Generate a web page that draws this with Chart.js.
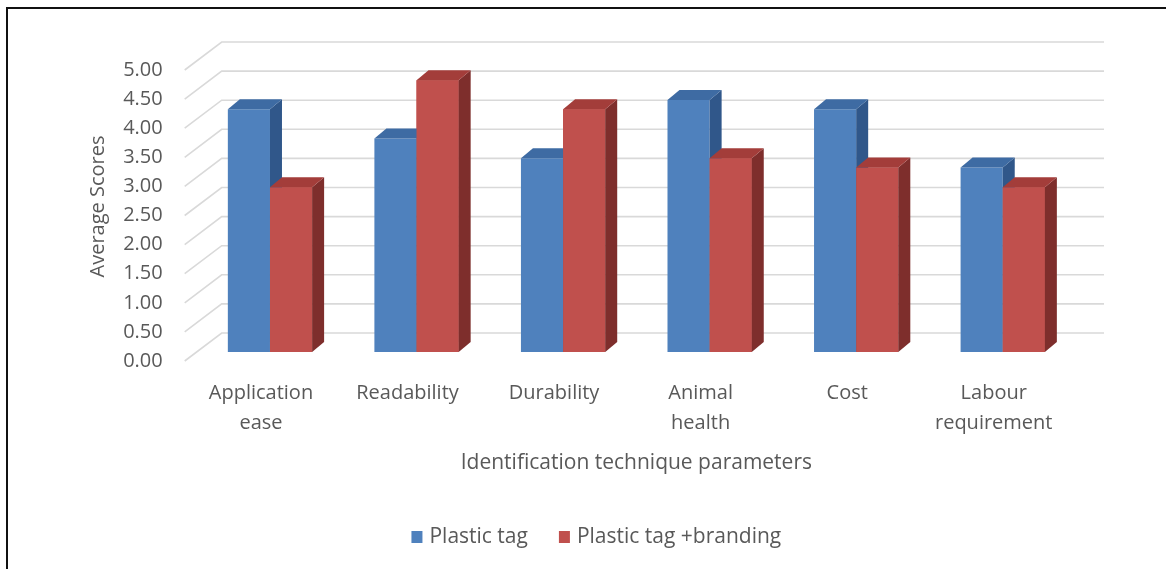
<!DOCTYPE html>
<html>
<head>
<meta charset="utf-8">
<script src="https://cdn.jsdelivr.net/npm/chart.js@4"></script>
<style>
  html, body { margin: 0; padding: 0; background: #fff; overflow: hidden; }
  #wrap { position: relative; width: 1166px; height: 569px; }
  #frame {
    position: absolute; left: 6px; top: 7px; right: -10px; bottom: -10px;
    border: 2px solid #111; pointer-events: none;
  }
</style>
</head>
<body>
<div id="wrap">
  <canvas id="chart" width="1166" height="569"></canvas>
  <div id="frame"></div>
</div>
<script>
// categories (multi-line labels)
const categories = [
  ["Application", "ease"],
  ["Readability"],
  ["Durability"],
  ["Animal", "health"],
  ["Cost"],
  ["Labour", "requirement"],
];
const seriesNames = ["Plastic tag", "Plastic tag +branding"];
const plasticTag = [4.17, 3.67, 3.33, 4.33, 4.17, 3.17];
const plasticTagBranding = [2.83, 4.67, 4.17, 3.33, 3.17, 2.83];
const yMin = 0;
const yMax = 5;
const yStep = 0.5;

const frontColors = ["#4F81BD", "#C0504D"];
const topColors = ["#3E6BA3", "#A33D3A"];
const sideColors = ["#30578A", "#7E2E2C"];
const textColor = "#595959";
const FONT = "'Open Sans', sans-serif";

// fake 3d depth of the bars
const BAR_DX = 12, BAR_DY = 10;

const depthPlugin = {
  id: "depth3d",
  beforeDatasetsDraw(chart) {
    // back wall gridlines + the slanted floor lines to the tick labels
    const { ctx, chartArea, scales } = chart;
    const y = scales.y;
    ctx.save();
    ctx.strokeStyle = "#d9d9d9";
    ctx.lineWidth = 1.6;
    y.ticks.forEach((t) => {
      const py = y.getPixelForValue(t.value);
      ctx.beginPath();
      ctx.moveTo(chartArea.left - 12, py + 9);
      ctx.lineTo(chartArea.left + 25, py - 19);
      ctx.lineTo(chartArea.right + 28, py - 19);
      ctx.stroke();
    });
    ctx.restore();
  },
  afterDatasetsDraw(chart) {
    const ctx = chart.ctx;
    const metas = [chart.getDatasetMeta(0), chart.getDatasetMeta(1)];
    ctx.save();
    categories.forEach((c, i) => {
      metas.forEach((meta, d) => {
        const bar = meta.data[i];
        // redraw front face so it hides the side of the bar before it
        if (d > 0) bar.draw(ctx);
        const { x, y, base, width } = bar.getProps(["x", "y", "base", "width"], true);
        const l = x - width / 2;
        const r = x + width / 2;
        ctx.fillStyle = sideColors[d];
        ctx.beginPath();
        ctx.moveTo(r, y);
        ctx.lineTo(r + BAR_DX, y - BAR_DY);
        ctx.lineTo(r + BAR_DX, base - BAR_DY);
        ctx.lineTo(r, base);
        ctx.closePath();
        ctx.fill();
        ctx.fillStyle = topColors[d];
        ctx.beginPath();
        ctx.moveTo(l, y);
        ctx.lineTo(l + BAR_DX, y - BAR_DY);
        ctx.lineTo(r + BAR_DX, y - BAR_DY);
        ctx.lineTo(r, y);
        ctx.closePath();
        ctx.fill();
      });
    });
    ctx.restore();
  },
  afterDraw(chart) {
    // legend under the axis title
    const { ctx, chartArea } = chart;
    ctx.save();
    ctx.font = "21px " + FONT;
    ctx.textBaseline = "middle";
    ctx.textAlign = "left";
    const box = 11, gap = 7, between = 31;
    const widths = chart.data.datasets.map((ds) => ctx.measureText(ds.label).width);
    const total = widths.reduce((a, w) => a + box + gap + w, 0) + between;
    let x = (chartArea.left + chartArea.right) / 2 - 40 - total / 2;
    const cy = 537;
    chart.data.datasets.forEach((ds, i) => {
      ctx.fillStyle = ds.backgroundColor;
      ctx.fillRect(x, cy - 6, box, 12);
      x += box + gap;
      ctx.fillStyle = textColor;
      ctx.fillText(ds.label, x, cy);
      x += widths[i] + between;
    });
    ctx.restore();
  },
};

new Chart(document.getElementById("chart"), {
  type: "bar",
  data: {
    labels: categories,
    datasets: [
      {
        label: seriesNames[0],
        data: plasticTag,
        backgroundColor: frontColors[0],
      },
      {
        label: seriesNames[1],
        data: plasticTagBranding,
        backgroundColor: frontColors[1],
      },
    ],
  },
  options: {
    responsive: false,
    animation: false,
    devicePixelRatio: 1,
    layout: { padding: { left: 80, right: 90, top: 61, bottom: 93 } },
    datasets: {
      bar: { categoryPercentage: 0.575, barPercentage: 1, borderWidth: 0 },
    },
    plugins: {
      legend: { display: false },
      tooltip: { enabled: false },
    },
    scales: {
      x: {
        grid: { display: false, drawTicks: false },
        border: { display: false },
        ticks: {
          color: textColor,
          font: { family: FONT, size: 20, lineHeight: 1.5 },
          padding: 26,
          labelOffset: -9,
          maxRotation: 0,
          autoSkip: false,
        },
        title: {
          display: true,
          text: "Identification technique parameters",
          color: textColor,
          font: { family: FONT, size: 21 },
          padding: { top: 0, bottom: 0 },
        },
        afterFit: (s) => { s.height = 124; },
      },
      y: {
        min: yMin,
        max: yMax,
        grid: { display: false, drawTicks: false },
        border: { display: false },
        ticks: {
          stepSize: yStep,
          color: textColor,
          font: { family: FONT, size: 20 },
          padding: 34,
          labelOffset: 9,
          callback: (v) => Number(v).toFixed(2),
        },
        title: {
          display: true,
          text: "Average Scores",
          color: textColor,
          font: { family: FONT, size: 20 },
          padding: { top: 6, bottom: 0 },
        },
        afterFit: (s) => { s.width = 116.7; },
      },
    },
  },
  plugins: [depthPlugin],
});
</script>
</body>
</html>
